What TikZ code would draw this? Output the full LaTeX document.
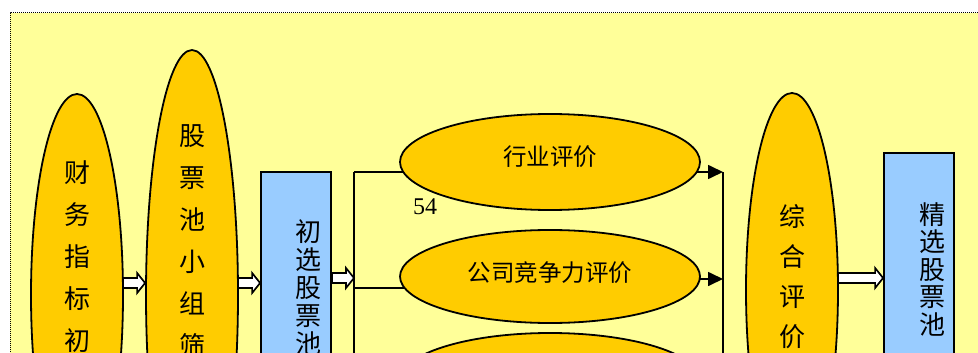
\documentclass[tikz,border=0pt]{standalone}
\usepackage{fontspec}
\setmainfont{Liberation Serif}
\newfontfamily\cjk{Noto Sans CJK SC}
\usetikzlibrary{arrows.meta,calc,shapes.geometric}
\definecolor{bgyellow}{HTML}{FFFF99}
\definecolor{ellfill}{HTML}{FFCC00}
\definecolor{boxblue}{HTML}{99CCFF}
\pgfdeclarelayer{bg}
\pgfdeclarelayer{lines}
\pgfsetlayers{bg,lines,main}
\tikzset{
  ell/.style={ellipse, draw, line width=1.8pt, fill=ellfill, inner sep=0pt},
  bluebox/.style={rectangle, draw, line width=1.8pt, fill=boxblue, inner sep=0pt, minimum width=70pt},
  vtext/.style={font=\cjk\fontsize{26}{42}\selectfont, align=center, inner sep=0pt, anchor=north},
  vtextbox/.style={font=\cjk\fontsize{26}{28}\selectfont, align=center, inner sep=0pt, anchor=north},
  htext/.style={font=\cjk\fontsize{23.5}{24}\selectfont, inner sep=0pt},
  blockarrow/.style={draw, fill=white, line width=1.7pt, line join=miter},
  conn/.style={line width=1.7pt},
  connarrow/.style={line width=1.7pt, -{Triangle[length=15pt,width=14pt]}},
}
\newcommand\blockarr[2]{\draw[blockarrow] ($(#1)+(0,-5)$) -- ($(#2)+(-8,-5)$) -- ($(#2)+(-8,-10)$) -- (#2) -- ($(#2)+(-8,10)$) -- ($(#2)+(-8,5)$) -- ($(#1)+(0,5)$) -- cycle;}
\begin{document}
\begin{tikzpicture}[x=1pt,y=-1pt]
\useasboundingbox (0,0) rectangle (978,353);
\clip (0,0) rectangle (978,353);
\begin{pgfonlayer}{bg}
  \fill[bgyellow] (10,13) rectangle (1000,400);
  \draw[line width=1pt, dash pattern=on 1pt off 1pt] (10,400) -- (10,13) -- (1000,13);
\end{pgfonlayer}

% nodes
\node[ell, minimum width=92pt, minimum height=402pt] (e1) at (77,295) {};
\node[ell, minimum width=92pt, minimum height=490pt] (e2) at (192,295) {};
\node[bluebox, minimum height=248pt] (r1) at (296,296) {};
\node[ell, minimum width=300pt, minimum height=96pt] (ev1) at (550,162) {};
\node[ell, minimum width=300pt, minimum height=93pt] (ev2) at (550,276.5) {};
\node[ell, minimum width=300pt, minimum height=94pt] (ev3) at (550,380) {};
\node[ell, minimum width=92pt, minimum height=394pt] (e3) at (792,290) {};
\node[bluebox, minimum height=267pt] (r2) at (919,286.5) {};

\coordinate (splitTop) at (354,172);
\coordinate (splitBot) at (354,420);
\coordinate (joinTop) at (723,172);
\coordinate (joinBot) at (723,420);
\coordinate (join2) at (723,279);

% texts
\node[vtext] (t1) at (77,160) {财\\务\\指\\标\\初};
\node[vtext] (t2) at (192,124) {股\\票\\池\\小\\组\\筛};
\node[vtextbox] (t3) at (308,219) {初\\选\\股\\票\\池};
\node[vtext, font=\cjk\fontsize{26}{40}\selectfont] (t4) at (792,204) {综\\合\\评\\价};
\node[vtextbox, font=\cjk\fontsize{26}{27.5}\selectfont] (t5) at (932,202) {精\\选\\股\\票\\池};
\node[htext] (h1) at (550,157) {行业评价};
\node[htext] (h2) at (550,273) {公司竞争力评价};
\node[font=\fontsize{24}{24}\selectfont, inner sep=0pt] (n54) at (425,207) {54};

\begin{pgfonlayer}{lines}
  \draw[conn] (splitTop) -- (splitBot);
  \draw[conn] (joinTop) -- (joinBot);
  \draw[conn] (splitTop) -- (ev1.center |- splitTop);
  \draw[conn] (354,288) -- (ev2.center |- 0,288);
  \draw[connarrow] (ev1.center |- joinTop) -- (joinTop);
  \draw[connarrow] (ev2.center |- join2) -- (join2);
  \coordinate (a1s) at ($(e1.east |- 0,283)+(-6,0)$);
  \coordinate (a1e) at ($(e2.west |- 0,283)+(0,0)$);
  \blockarr{a1s}{a1e}
  \coordinate (a2s) at ($(e2.east |- 0,283)+(-6,0)$);
  \coordinate (a2e) at (r1.west |- 0,283);
  \blockarr{a2s}{a2e}
  \coordinate (a4s) at ($(e3.east |- 0,278)+(-6,0)$);
  \coordinate (a4e) at (r2.west |- 0,278);
  \blockarr{a4s}{a4e}
\end{pgfonlayer}
\coordinate (a3s) at (r1.east |- 0,278);
\coordinate (a3e) at (splitTop |- 0,278);
\blockarr{a3s}{a3e}
\end{tikzpicture}
\end{document}
